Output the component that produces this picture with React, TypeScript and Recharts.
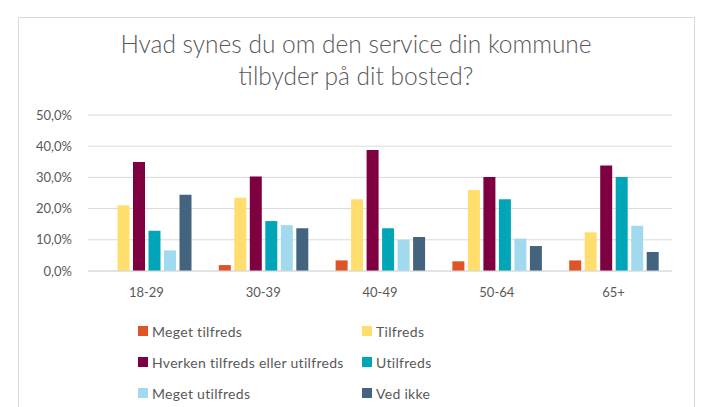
import { BarChart, Bar, XAxis, YAxis, CartesianGrid } from 'recharts'

const categories = ['18-29', '30-39', '40-49', '50-64', '65+']

const series = [
  { key: 'megetTilfreds', name: 'Meget tilfreds', color: '#DD5426' },
  { key: 'tilfreds', name: 'Tilfreds', color: '#FFDE6E' },
  { key: 'hverken', name: 'Hverken tilfreds eller utilfreds', color: '#7E0040' },
  { key: 'utilfreds', name: 'Utilfreds', color: '#00A6B8' },
  { key: 'megetUtilfreds', name: 'Meget utilfreds', color: '#A1DAEE' },
  { key: 'vedIkke', name: 'Ved ikke', color: '#44637F' },
]

// percent values per age group
const megetTilfreds = [0, 1.9, 3.4, 3.1, 3.4]
const tilfreds = [21.1, 23.5, 23.0, 26.0, 12.4]
const hverken = [34.9, 30.3, 38.8, 30.1, 33.8]
const utilfreds = [12.9, 16.0, 13.7, 23.0, 30.1]
const megetUtilfreds = [6.6, 14.7, 10.0, 10.4, 14.5]
const vedIkke = [24.4, 13.7, 10.9, 8.0, 6.1]

const yTicks = [0, 10, 20, 30, 40, 50]

const data = categories.map((age, i) => ({
  age,
  megetTilfreds: megetTilfreds[i],
  tilfreds: tilfreds[i],
  hverken: hverken[i],
  utilfreds: utilfreds[i],
  megetUtilfreds: megetUtilfreds[i],
  vedIkke: vedIkke[i],
}))

const FONT = 'Lato, "Open Sans", sans-serif'
const TEXT = '#595959'

const pct = (v: number) => `${v.toFixed(1).replace('.', ',')}%`

export default function App() {
  return (
    <div style={{ position: 'absolute', left: 0, top: 0, width: 703, height: 407, background: '#fff', overflow: 'hidden', fontFamily: FONT }}>
      <div style={{ position: 'absolute', left: 18, top: 17, width: 675, height: 420, border: '1px solid #d9d9d9' }} />
      <div style={{ position: 'absolute', left: 18, top: 28, width: 676, textAlign: 'center', color: TEXT, fontSize: 24.5, fontWeight: 300, lineHeight: '32px' }}>
        Hvad synes du om den service din kommune
        <br />
        tilbyder på dit bosted?
      </div>
      <div style={{ position: 'absolute', left: 0, top: 0 }}>
        <BarChart
          width={703}
          height={407}
          data={data}
          margin={{ top: 115, right: 31, bottom: 106, left: 0 }}
          barSize={12}
          barGap={3.5}
        >
          <CartesianGrid vertical={false} stroke="#d9d9d9" />
          <XAxis
            dataKey="age"
            height={30}
            axisLine={{ stroke: '#d9d9d9' }}
            tickLine={false}
            tickSize={6}
            tickMargin={11}
            tick={{ fill: TEXT, fontSize: 13, fontFamily: FONT }}
          />
          <YAxis
            width={88}
            domain={[0, 50]}
            ticks={yTicks}
            tickFormatter={pct}
            axisLine={false}
            tickLine={false}
            tickSize={6}
            tickMargin={10}
            tick={{ fill: TEXT, fontSize: 13, fontFamily: FONT }}
          />
          {series.map((s) => (
            <Bar key={s.key} dataKey={s.key} name={s.name} fill={s.color} isAnimationActive={false} />
          ))}
        </BarChart>
      </div>
      <div style={{ position: 'absolute', left: 138, top: 322, width: 450, display: 'grid', gridTemplateColumns: '224px 200px', rowGap: 13 }}>
        {series.map((s) => (
          <div key={s.key} style={{ display: 'flex', alignItems: 'center', height: 18, color: TEXT, fontSize: 14, whiteSpace: 'nowrap', letterSpacing: 0.3 }}>
            <span style={{ width: 10, height: 10, background: s.color, marginRight: 4, flex: 'none' }} />
            {s.name}
          </div>
        ))}
      </div>
    </div>
  )
}
